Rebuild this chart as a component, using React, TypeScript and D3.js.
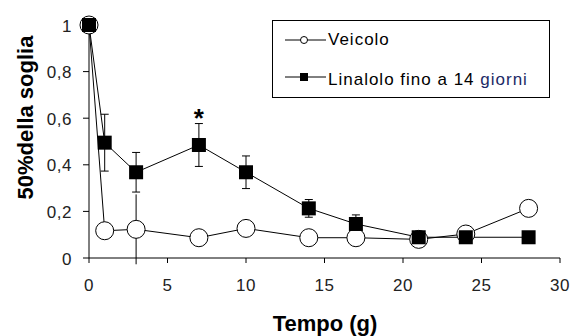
import * as d3 from "d3";

const days = [0, 1, 3, 7, 10, 14, 17, 21, 24, 28];
const veicolo = [1.0, 0.117, 0.123, 0.087, 0.127, 0.087, 0.087, 0.08, 0.103, 0.213];
const veicoloErr = [0, 0, 0.15, 0, 0, 0, 0, 0, 0, 0];
const linalolo = [1.0, 0.495, 0.368, 0.485, 0.368, 0.213, 0.146, 0.089, 0.089, 0.089];
const linaloloErr = [0, 0.122, 0.085, 0.092, 0.07, 0.038, 0.039, 0, 0, 0];
const xTicks = [0, 5, 10, 15, 20, 25, 30];
const yTicks = [0, 0.2, 0.4, 0.6, 0.8, 1];

export default function App() {
  const width = 570;
  const height = 336;
  const x0 = 89;
  const x1 = 560;
  const y0 = 258;
  const y1 = 25;

  const xScale = d3.scaleLinear().domain([0, 30]).range([x0, x1]);
  const yScale = d3.scaleLinear().domain([0, 1]).range([y0, y1]);
  const fmt = (v: number) => (v === 0 || v === 1 ? String(v) : d3.format(".1f")(v).replace(".", ","));

  const line = d3
    .line<number>()
    .x((_, i) => xScale(days[i]))
    .y((d) => yScale(d));

  const font = "'Liberation Sans', Arial, sans-serif";

  const errBar = (i: number, v: number, e: number, key: string, caps = true) => {
    if (!e) return null;
    const cx = xScale(days[i]);
    const top = yScale(v + e);
    const bot = yScale(v - e);
    return (
      <g key={key} stroke="#000" strokeWidth={1}>
        <line x1={cx} x2={cx} y1={top} y2={bot} />
        {caps && <line x1={cx - 4} x2={cx + 4} y1={top} y2={top} />}
        {caps && <line x1={cx - 4} x2={cx + 4} y1={bot} y2={bot} />}
      </g>
    );
  };

  return (
    <div style={{ position: "fixed", left: 0, top: 0 }}>
      <svg width={width} height={height} style={{ display: "block", background: "#fff" }} fontFamily={font}>
        {/* y axis */}
        <line x1={x0} x2={x0} y1={y1 - 8} y2={y0} stroke="#000" />
        {yTicks.map((t) => (
          <g key={t}>
            <line x1={x0 - 6} x2={x0} y1={yScale(t)} y2={yScale(t)} stroke="#000" />
            <text x={x0 - 17} y={yScale(t) + 6.5} textAnchor="end" fontSize={17} letterSpacing={0.5} fill="#222">
              {fmt(t)}
            </text>
          </g>
        ))}
        {/* x axis */}
        <line x1={x0} x2={x1} y1={y0} y2={y0} stroke="#000" />
        {xTicks.map((t) => (
          <g key={t}>
            <line x1={xScale(t)} x2={xScale(t)} y1={y0} y2={y0 + 5} stroke="#000" />
            <text x={xScale(t)} y={y0 + 33} textAnchor="middle" fontSize={17} letterSpacing={0.5} fill="#222">
              {t}
            </text>
          </g>
        ))}

        {/* error bars */}
        {days.map((_, i) => errBar(i, linalolo[i], linaloloErr[i], "le" + i))}
        {days.map((_, i) => errBar(i, veicolo[i], veicoloErr[i], "ve" + i, false))}

        {/* lines */}
        <path d={line(linalolo) ?? ""} fill="none" stroke="#000" strokeWidth={1} />
        <path d={line(veicolo) ?? ""} fill="none" stroke="#000" strokeWidth={1} />

        {/* markers */}
        {veicolo.map((v, i) => (
          <circle key={"vc" + i} cx={xScale(days[i])} cy={yScale(v)} r={9} fill="#fff" stroke="#000" strokeWidth={1} />
        ))}
        {linalolo.map((v, i) => (
          <rect key={"lr" + i} x={xScale(days[i]) - 7} y={yScale(v) - 7} width={14} height={14} fill="#000" />
        ))}

        {/* significance */}
        <text x={xScale(7)} y={yScale(linalolo[3] + linaloloErr[3]) + 3} textAnchor="middle" fontSize={26} fontWeight="bold">
          *
        </text>

        {/* legend */}
        <rect x={272.5} y={20.5} width={277} height={77} fill="#fff" stroke="#000" />
        <line x1={285} x2={326} y1={40} y2={40} stroke="#000" />
        <circle cx={304} cy={40} r={3.5} fill="#fff" stroke="#000" />
        <text x={328} y={44.5} fontSize={17} letterSpacing={1}>Veicolo</text>
        <line x1={285} x2={326} y1={77} y2={77} stroke="#000" />
        <rect x={300} y={73} width={8} height={8} fill="#000" />
        <text x={328} y={85} fontSize={17} letterSpacing={1}>
          Linalolo fino a 14 <tspan fill="#1c2a66">giorni</tspan>
        </text>

        {/* axis titles */}
        <text x={325} y={331} textAnchor="middle" fontSize={22} fontWeight="bold">
          Tempo (g)
        </text>
        <text transform="translate(33,117.5) rotate(-90)" textAnchor="middle" fontSize={22} fontWeight="bold">
          50%della soglia
        </text>
      </svg>
    </div>
  );
}
